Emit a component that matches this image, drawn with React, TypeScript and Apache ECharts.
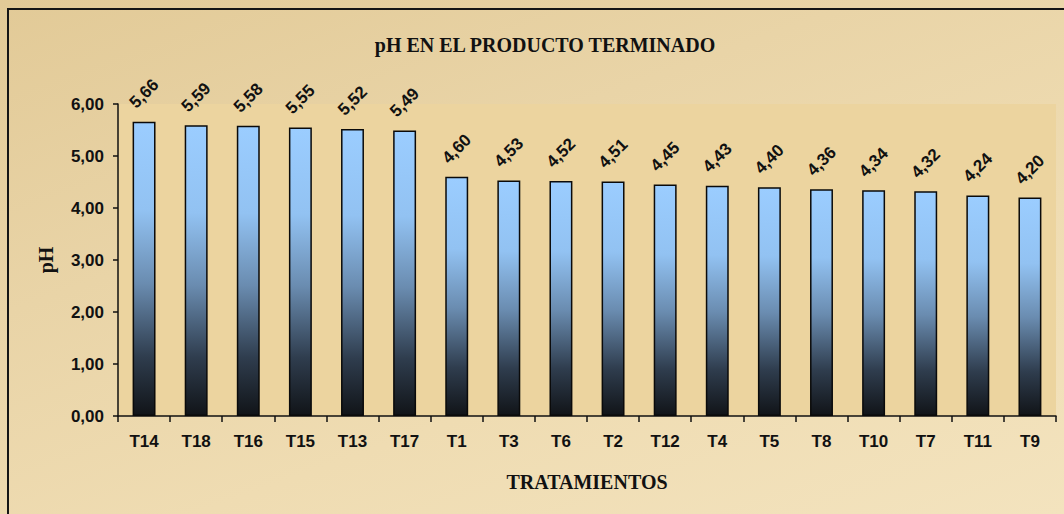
import React, { useEffect, useRef } from "react";
import * as echarts from "echarts";

const categories = ["T14", "T18", "T16", "T15", "T13", "T17", "T1", "T3", "T6", "T2", "T12", "T4", "T5", "T8", "T10", "T7", "T11", "T9"];
const phValues = [5.66, 5.59, 5.58, 5.55, 5.52, 5.49, 4.6, 4.53, 4.52, 4.51, 4.45, 4.43, 4.4, 4.36, 4.34, 4.32, 4.24, 4.2];
const yTicks = [0, 1, 2, 3, 4, 5, 6];

const fmt = (v: number) => v.toFixed(2).replace(".", ",");

export default function App() {
  const ref = useRef<HTMLDivElement>(null);
  useEffect(() => {
    if (!ref.current) return;
    const chart = echarts.init(ref.current, undefined, { renderer: "svg" });
    const barColor = new echarts.graphic.LinearGradient(0, 0, 0, 1, [
      { offset: 0, color: "#9bcdff" },
      { offset: 0.3, color: "#92c2f2" },
      { offset: 0.55, color: "#6a8cb0" },
      { offset: 0.8, color: "#2f3d4e" },
      { offset: 1, color: "#111418" },
    ]);
    chart.setOption({
      animation: false,
      backgroundColor: "transparent",
      title: {
        text: "pH EN EL PRODUCTO TERMINADO",
        left: 540,
        top: 30,
        textAlign: "center",
        textStyle: {
          fontFamily: "Liberation Serif",
          fontWeight: "bold",
          fontSize: 20,
          color: "#111",
        },
      },
      graphic: [
        {
          type: "rect",
          shape: { x: 8, y: 9, width: 1100, height: 600 },
          style: { fill: "none", stroke: "#151515", lineWidth: 2 },
          silent: true,
          z: 100,
        },
      ],
      grid: {
        left: 118,
        right: 8,
        top: 104,
        bottom: 98,
        show: true,
        backgroundColor: "#ecd49f",
        borderWidth: 0,
      },
      xAxis: {
        type: "category",
        data: categories,
        name: "TRATAMIENTOS",
        nameLocation: "middle",
        nameGap: 56,
        nameTextStyle: {
          fontFamily: "Liberation Serif",
          fontWeight: "bold",
          fontSize: 20,
          color: "#111",
        },
        axisLine: { lineStyle: { color: "#111", width: 1.5 } },
        axisTick: { show: true, length: 6, lineStyle: { color: "#111", width: 1.5 } },
        axisLabel: {
          margin: 17,
          fontFamily: "Liberation Sans",
          fontWeight: "bold",
          fontSize: 17,
          color: "#111",
        },
      },
      yAxis: {
        type: "value",
        min: 0,
        max: 6,
        interval: 1,
        name: "pH",
        nameLocation: "middle",
        nameGap: 62,
        nameRotate: 90,
        nameTextStyle: {
          fontFamily: "Liberation Serif",
          fontWeight: "bold",
          fontSize: 20,
          color: "#111",
        },
        axisLine: { show: true, lineStyle: { color: "#111", width: 1.5 } },
        axisTick: { show: true, length: 5, lineStyle: { color: "#111", width: 1.5 } },
        splitLine: { show: false },
        axisLabel: {
          margin: 14,
          fontFamily: "Liberation Sans",
          fontWeight: "bold",
          fontSize: 17,
          color: "#111",
          formatter: (v: number) => (yTicks.includes(v) ? fmt(v) : ""),
        },
      },
      series: [
        {
          type: "bar",
          data: phValues,
          barWidth: "44%",
          itemStyle: { color: barColor, borderColor: "#0a0a0a", borderWidth: 1.5 },
          label: {
            show: true,
            position: "top",
            distance: 28,
            rotate: 45,
            align: "center",
            verticalAlign: "middle",
            fontFamily: "Liberation Sans",
            fontWeight: "bold",
            fontSize: 17,
            color: "#111",
            formatter: (p: any) => fmt(p.value),
          },
        },
      ],
    });
    return () => chart.dispose();
  }, []);
  return (
    <div
      ref={ref}
      style={{
        position: "fixed",
        left: 0,
        top: 0,
        width: 1064,
        height: 514,
        background:
          "linear-gradient(160deg, #e2ca97 0%, #e9d4a7 35%, #efdcb2 65%, #f3e3be 100%)",
      }}
    />
  );
}
